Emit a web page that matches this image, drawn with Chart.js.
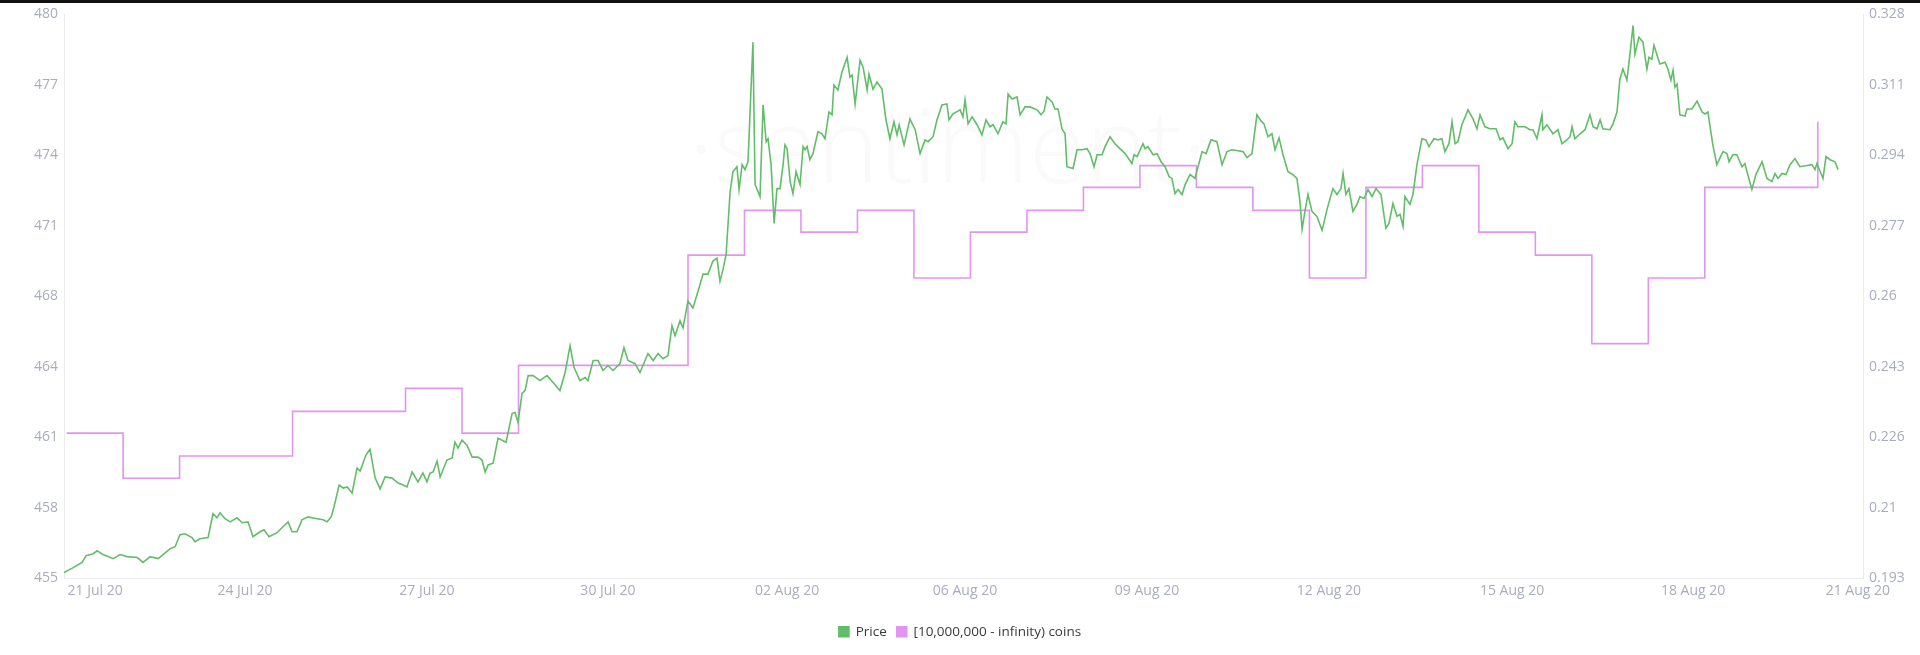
<!DOCTYPE html>
<html>
<head>
<meta charset="utf-8">
<title>Price vs [10,000,000 - infinity) coins</title>
<script src="https://cdn.jsdelivr.net/npm/chart.js@4.4.1/dist/chart.umd.min.js"></script>
<style>
  html, body { margin: 0; padding: 0; background: #fff; }
  #wrap { position: relative; width: 1920px; height: 655px; }
  #topbar { position: absolute; left: 0; top: 0; width: 1920px; height: 3px; background: #111; }
</style>
</head>
<body>
<div id="wrap">
  <canvas id="chart"></canvas>
  <div id="topbar"></div>
</div>
<script>
// x values are hours counted from 20 Jul 20 00:00
const X_MIN = 22.9
const X_MAX = 787.2

const xTickHours = [36.1, 99.8, 177.1, 254.0, 330.1, 405.7, 483.0, 560.3, 638.1, 715.0, 785.0]
const xTickLabels = ['21 Jul 20', '24 Jul 20', '27 Jul 20', '30 Jul 20', '02 Aug 20', '06 Aug 20',
  '09 Aug 20', '12 Aug 20', '15 Aug 20', '18 Aug 20', '21 Aug 20']

const priceMin = 455
const priceMax = 480
const priceTickLabels = ['455', '458', '461', '464', '468', '471', '474', '477', '480']

const coinsMin = 0.193
const coinsMax = 0.328
const coinsTickLabels = ['0.193', '0.21', '0.226', '0.243', '0.26', '0.277', '0.294', '0.311', '0.328']

// daily balance of the [10,000,000 - infinity) group, 21 Jul .. 21 Aug
const coinDays = ['21 Jul', '22 Jul', '23 Jul', '24 Jul', '25 Jul', '26 Jul', '27 Jul', '28 Jul',
  '29 Jul', '30 Jul', '31 Jul', '01 Aug', '02 Aug', '03 Aug', '04 Aug', '05 Aug', '06 Aug',
  '07 Aug', '08 Aug', '09 Aug', '10 Aug', '11 Aug', '12 Aug', '13 Aug', '14 Aug', '15 Aug',
  '16 Aug', '17 Aug', '18 Aug', '19 Aug', '20 Aug', '21 Aug']
const coinValues = [0.2278, 0.2170, 0.2223, 0.2223, 0.2330, 0.2330, 0.2385, 0.2278,
  0.2440, 0.2440, 0.2440, 0.2704, 0.2811, 0.2759, 0.2811, 0.2649, 0.2759,
  0.2811, 0.2866, 0.2918, 0.2866, 0.2811, 0.2649, 0.2866, 0.2918, 0.2759,
  0.2704, 0.2492, 0.2649, 0.2866, 0.2866, 0.3023]

// price samples: [hour, price]
const priceData = [
  [22.9, 455.26], [26.8, 455.48], [30.6, 455.71], [32.3, 456.01], [35.3, 456.10], [37.0, 456.23],
  [39.5, 456.06], [41.6, 455.97], [43.8, 455.88], [46.7, 456.06], [49.7, 455.97], [54.0, 455.93],
  [56.5, 455.71], [59.5, 455.97], [62.9, 455.88], [65.0, 456.06], [68.0, 456.32], [70.1, 456.41],
  [72.2, 456.94], [74.3, 456.98], [77.3, 456.81], [78.6, 456.63], [80.7, 456.76], [84.1, 456.81],
  [86.2, 457.87], [87.9, 457.69], [89.2, 457.91], [91.3, 457.65], [93.5, 457.51], [96.4, 457.69],
  [98.6, 457.47], [101.1, 457.51], [103.2, 456.85], [106.2, 457.07], [107.9, 457.16], [110.0, 456.85],
  [113.4, 457.03], [115.5, 457.25], [118.1, 457.51], [119.8, 457.07], [121.9, 457.07], [124.0, 457.60],
  [126.6, 457.73], [130.4, 457.65], [133.0, 457.60], [134.7, 457.51], [136.4, 457.73], [137.6, 458.17],
  [139.8, 459.14], [141.5, 459.01], [143.2, 459.06], [145.3, 458.79], [147.4, 459.89], [148.7, 459.76],
  [151.2, 460.47], [152.9, 460.73], [155.1, 459.45], [157.2, 458.97], [159.3, 459.50], [162.3, 459.45],
  [164.8, 459.23], [167.0, 459.14], [168.6, 459.06], [170.8, 459.72], [173.3, 459.28], [175.4, 459.67],
  [177.1, 459.28], [178.4, 459.67], [179.7, 459.72], [181.4, 460.20], [182.7, 459.50],
  [185.6, 460.25], [187.8, 460.34], [189.0, 461.04], [190.3, 460.78], [192.0, 461.13], [194.1, 460.91],
  [196.3, 460.38], [198.8, 460.38], [200.5, 460.25], [201.8, 459.72], [203.1, 460.03], [205.2, 460.11],
  [207.3, 461.22], [210.7, 461.04], [213.3, 462.32], [214.5, 462.36], [215.8, 461.92], [217.5, 463.20],
  [218.8, 463.33], [220.1, 463.99], [222.2, 463.99], [225.1, 463.77], [228.1, 463.99], [230.7, 463.69],
  [233.6, 463.33], [235.8, 464.13], [237.9, 465.32], [239.6, 464.35], [242.1, 463.77], [244.3, 463.91],
  [245.5, 463.77], [247.7, 464.66], [249.8, 464.66], [251.9, 464.22], [254.0, 464.44], [256.2, 464.22],
  [259.1, 464.52], [260.8, 465.23], [262.5, 464.66], [265.5, 464.52], [267.6, 464.13], [271.0, 464.97],
  [273.2, 464.66], [275.3, 464.97], [277.4, 464.74], [279.5, 464.88], [281.2, 466.20], [282.5, 465.76],
  [284.6, 466.42], [285.9, 466.11], [288.0, 467.30], [290.1, 466.99], [292.3, 467.74], [294.4, 468.49],
  [296.5, 468.49], [298.6, 469.07], [300.3, 469.20], [301.6, 468.18], [302.9, 468.71], [304.2, 469.37],
  [305.9, 472.15], [307.1, 473.03], [308.8, 473.25], [309.7, 472.24], [311.0, 473.34], [312.2, 473.12],
  [313.5, 473.47], [315.6, 478.77], [316.5, 472.46], [318.6, 471.93], [319.9, 475.99], [321.2, 474.36],
  [322.0, 474.49], [323.3, 473.34], [324.6, 470.74], [325.8, 472.28],
  [327.1, 472.28], [328.4, 473.34], [329.2, 474.22], [330.1, 474.05], [331.4, 472.59], [332.6, 472.06],
  [333.9, 473.03], [335.6, 472.46], [336.9, 474.14], [337.7, 474.00], [338.6, 474.14], [339.8, 473.56],
  [341.1, 473.83], [343.2, 474.80], [344.9, 474.71], [346.2, 474.49], [347.9, 475.68], [349.2, 475.55],
  [350.0, 476.87], [351.7, 476.65], [353.4, 477.44], [355.6, 478.10], [356.8, 477.22], [357.7, 477.31],
  [359.0, 476.03], [361.1, 477.97], [362.4, 477.66], [364.1, 476.65], [364.9, 477.35], [366.6, 476.69],
  [368.3, 477.00], [370.4, 476.69], [372.1, 475.33], [373.8, 474.49], [375.5, 475.24], [376.8, 474.66],
  [377.7, 475.11], [379.8, 474.22], [382.3, 475.37], [384.5, 474.89], [386.6, 473.83], [388.7, 474.44],
  [390.0, 474.36], [392.1, 474.58], [393.8, 475.33], [395.9, 475.99], [398.0, 476.03], [398.9, 475.33],
  [400.6, 475.59], [403.6, 475.77], [404.8, 475.46], [405.7, 476.21], [407.0, 475.15], [408.7, 475.46],
  [410.8, 475.11], [412.9, 474.66], [414.6, 475.33], [416.3, 475.02], [417.6, 475.11], [419.7, 474.71],
  [421.8, 475.24], [423.1, 475.15], [424.0, 476.47], [425.7, 476.25], [427.8, 476.34], [429.1, 475.55],
  [431.2, 475.90], [433.3, 475.90], [436.3, 475.77], [438.0, 475.55], [439.3, 475.72], [440.5, 476.34],
  [442.7, 476.12], [443.9, 475.81], [445.2, 475.81], [446.9, 474.93], [448.2, 474.71], [449.0, 473.25],
  [451.6, 473.17], [453.3, 474.00], [455.4, 474.00], [457.5, 474.05], [458.8, 473.83], [460.5, 473.25],
  [461.8, 473.78], [463.9, 473.78], [465.2, 474.14], [467.3, 474.58], [469.4, 474.27], [471.5, 474.05],
  [473.7, 473.83], [476.6, 473.39], [477.5, 473.78], [478.8, 473.70],
  [481.3, 474.27], [482.2, 474.05], [483.4, 474.14], [485.6, 473.78], [487.3, 473.83], [489.0, 473.47],
  [490.7, 473.25], [492.4, 472.81], [493.6, 472.73], [494.9, 472.06], [496.2, 472.24], [497.9, 472.02],
  [499.2, 472.46], [501.3, 472.90], [503.4, 472.73], [504.7, 473.25], [506.4, 473.92], [508.1, 473.83],
  [510.2, 474.44], [512.7, 474.36], [514.9, 473.34], [517.0, 473.92], [519.1, 474.00], [521.7, 473.96],
  [523.8, 473.92], [525.5, 473.65], [527.6, 473.83], [529.7, 475.55], [531.4, 475.28], [532.7, 475.15],
  [534.4, 474.58], [536.1, 474.71], [537.4, 474.00], [539.1, 474.53], [540.8, 473.78], [542.9, 473.03],
  [545.0, 472.90], [546.7, 472.73], [548.0, 471.71], [548.9, 470.48], [550.1, 471.27], [551.4, 472.02],
  [553.1, 471.27], [555.2, 471.05], [557.4, 470.43], [559.5, 471.36], [562.0, 472.28], [563.7, 472.02],
  [565.4, 472.28], [566.3, 472.95], [567.5, 472.02], [568.8, 472.28], [570.5, 471.27], [572.2, 471.58],
  [573.5, 471.93], [575.2, 471.84], [576.9, 472.24], [578.6, 471.93], [580.3, 472.28], [582.4, 472.02],
  [584.5, 470.52], [585.8, 470.74], [587.5, 471.62], [589.2, 471.05], [590.5, 471.14], [591.8, 470.61],
  [592.6, 471.93], [594.7, 471.58], [596.0, 472.02], [597.7, 473.34], [599.8, 474.49], [601.5, 474.44],
  [602.8, 474.14], [604.9, 474.49], [606.6, 474.44], [608.3, 474.49], [609.6, 473.92], [611.3, 474.27],
  [612.6, 475.24], [613.9, 474.27], [615.1, 474.36], [616.8, 475.11], [619.4, 475.77], [621.5, 475.37],
  [623.2, 474.93], [624.5, 475.55], [626.6, 475.02], [628.7, 474.93], [631.3, 474.93],
  [633.0, 474.44], [634.2, 474.53], [636.4, 474.05], [638.1, 474.27], [639.3, 475.24], [640.6, 475.02],
  [643.6, 475.02], [645.7, 474.89], [647.0, 474.89], [648.7, 474.49], [650.8, 475.55], [651.2, 474.89],
  [652.9, 475.11], [655.5, 474.71], [657.6, 474.89], [659.3, 474.27], [661.4, 474.44], [662.7, 474.58],
  [663.6, 475.02], [664.8, 474.49], [667.0, 474.71], [669.1, 474.89], [671.2, 475.55], [672.5, 475.02],
  [674.2, 474.93], [675.5, 475.33], [676.7, 474.93], [679.7, 474.89], [681.0, 475.15], [682.7, 475.68],
  [683.9, 477.13], [685.2, 477.58], [686.9, 477.09], [688.2, 478.24], [689.5, 479.51], [690.3, 478.24],
  [692.0, 478.99], [693.7, 478.77], [695.4, 477.58], [696.3, 478.10], [697.5, 478.02], [698.4, 478.63],
  [699.7, 478.19], [700.9, 477.80], [703.1, 477.88], [704.3, 477.58], [705.6, 477.09], [706.5, 477.53],
  [707.3, 476.78], [708.2, 476.91], [709.4, 475.55], [711.6, 475.50], [712.4, 475.81], [714.5, 475.81],
  [716.7, 476.16], [718.8, 475.68], [720.1, 475.59], [721.3, 475.68], [723.4, 474.22], [725.1, 473.34],
  [727.7, 473.92], [729.4, 473.83], [730.3, 473.47], [731.9, 473.78], [733.6, 473.78], [735.8, 473.25],
  [737.0, 473.39], [738.7, 472.73], [740.0, 472.24], [741.7, 472.90], [744.3, 473.47], [746.4, 472.73],
  [748.5, 472.59], [749.8, 472.95], [751.1, 472.73], [752.8, 472.95], [754.5, 472.90], [756.2, 473.34],
  [758.3, 473.61], [760.4, 473.25], [763.4, 473.30], [765.5, 473.34], [766.8, 473.12], [767.6, 473.39],
  [770.2, 472.73], [771.5, 473.70], [773.2, 473.56], [775.3, 473.47], [776.6, 473.12]
]

const GREEN = '#62bd69'
const VIOLET = '#e195ef'
const TICK_COLOR = '#a9adbc'
const AXIS_COLOR = '#ebebf0'
const TICK_FONT = { family: "'Open Sans', sans-serif", size: 14 }
const LEGEND_FONT = { family: "'Open Sans', sans-serif", size: 13.5 }

// faint watermark behind the lines
const watermark = {
  id: 'watermark',
  beforeDatasetsDraw(chart) {
    const ctx = chart.ctx
    ctx.save()
    ctx.font = "300 104px 'Open Sans', sans-serif"
    ctx.fillStyle = 'rgba(40, 40, 70, 0.025)'
    ctx.textAlign = 'center'
    ctx.textBaseline = 'alphabetic'
    ctx.fillText('·santiment·', 948, 183)
    ctx.restore()
  }
}

const evenTicks = (min, max, labels) => axis => {
  axis.ticks = labels.map((_, i) => ({ value: min + i * (max - min) / (labels.length - 1) }))
}

new Chart(document.getElementById('chart'), {
  type: 'line',
  data: {
    datasets: [
      {
        label: 'Price',
        data: priceData.map(([h, v]) => ({ x: h, y: v })),
        yAxisID: 'y',
        borderColor: GREEN,
        backgroundColor: GREEN,
        borderWidth: 1.6,
        pointRadius: 0,
        tension: 0
      },
      {
        label: '[10,000,000 - infinity) coins',
        data: coinValues.map((v, i) => ({ x: 24 * (i + 1), y: v })),
        yAxisID: 'y1',
        borderColor: VIOLET,
        backgroundColor: VIOLET,
        borderWidth: 1.6,
        pointRadius: 0,
        stepped: true
      }
    ]
  },
  options: {
    responsive: true,
    maintainAspectRatio: false,
    animation: false,
    events: [],
    layout: { padding: { top: 12, bottom: 6.5, left: 0, right: 0 } },
    plugins: {
      tooltip: { enabled: false },
      legend: {
        position: 'bottom',
        labels: {
          boxWidth: 10,
          boxHeight: 10,
          padding: 10,
          color: '#3a3a3a',
          font: LEGEND_FONT
        }
      }
    },
    scales: {
      x: {
        type: 'linear',
        min: X_MIN,
        max: X_MAX,
        grid: { display: false, drawTicks: false },
        border: { display: true, color: AXIS_COLOR, width: 1 },
        afterBuildTicks: axis => { axis.ticks = xTickHours.map(v => ({ value: v })) },
        afterFit: axis => { axis.height = 36.5 },
        ticks: {
          autoSkip: false,
          maxRotation: 0,
          padding: 4,
          color: TICK_COLOR,
          font: TICK_FONT,
          callback: v => {
            const i = xTickHours.indexOf(v)
            return i >= 0 ? xTickLabels[i] : ''
          }
        }
      },
      y: {
        position: 'left',
        min: priceMin,
        max: priceMax,
        grid: { display: false, drawTicks: false },
        border: { display: true, color: AXIS_COLOR, width: 1 },
        afterBuildTicks: evenTicks(priceMin, priceMax, priceTickLabels),
        afterFit: axis => { axis.width = 64 },
        ticks: {
          padding: 6,
          color: TICK_COLOR,
          font: TICK_FONT,
          callback: (v, i) => priceTickLabels[i]
        }
      },
      y1: {
        position: 'right',
        min: coinsMin,
        max: coinsMax,
        grid: { display: false, drawTicks: false },
        border: { display: true, color: AXIS_COLOR, width: 1 },
        afterBuildTicks: evenTicks(coinsMin, coinsMax, coinsTickLabels),
        afterFit: axis => { axis.width = 57 },
        ticks: {
          padding: 6,
          color: TICK_COLOR,
          font: TICK_FONT,
          callback: (v, i) => coinsTickLabels[i]
        }
      }
    }
  },
  plugins: [watermark]
})
</script>
</body>
</html>
